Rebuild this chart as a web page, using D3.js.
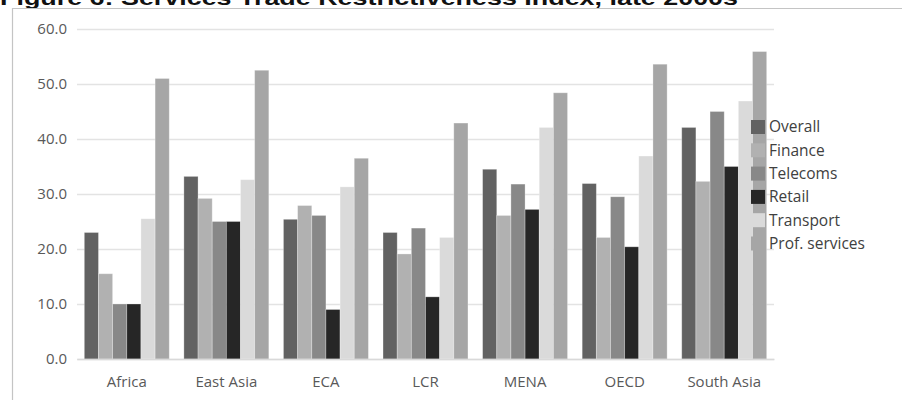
<!DOCTYPE html>
<html>
<head>
<meta charset="utf-8">
<script src="https://cdn.jsdelivr.net/npm/d3@7"></script>
<style>
  html, body { margin: 0; padding: 0; background: #fff; }
  svg { display: block; }
  .tick text { font-family: "Open Sans", sans-serif; fill: #595959; }
</style>
</head>
<body>
<svg id="chart" width="902" height="400"></svg>
<script>
// Services Trade Restrictiveness Index by region and sector
const regions = ["Africa", "East Asia", "ECA", "LCR", "MENA", "OECD", "South Asia"];
const sectors = ["Overall", "Finance", "Telecoms", "Retail", "Transport", "Prof. services"];

const overall   = [23.0, 33.2, 25.4, 23.0, 34.5, 31.9, 42.1];
const finance   = [15.5, 29.2, 27.9, 19.1, 26.1, 22.1, 32.3];
const telecoms  = [10.0, 25.0, 26.1, 23.8, 31.8, 29.5, 45.0];
const retail    = [10.0, 25.0,  9.0, 11.3, 27.2, 20.4, 35.0];
const transport = [25.5, 32.6, 31.3, 22.1, 42.1, 36.9, 46.9];
const profServ  = [51.0, 52.5, 36.5, 42.9, 48.4, 53.6, 55.9];

const yTicks = [0, 10, 20, 30, 40, 50, 60];
const titleText = "Figure 6: Services Trade Restrictiveness Index, late 2000s";

const seriesValues = [overall, finance, telecoms, retail, transport, profServ];
const colors = ["#626262", "#b1b1b1", "#888888", "#262626", "#dadada", "#a6a6a6"];

const svg = d3.select("#chart");

// title, partly above the top edge
svg.append("text")
  .attr("x", 0).attr("y", 5)
  .attr("textLength", 738).attr("lengthAdjust", "spacingAndGlyphs")
  .style("font-family", "'Liberation Sans', Arial, sans-serif")
  .style("font-weight", "bold")
  .style("font-size", "20px")
  .style("fill", "#111")
  .text(titleText);

// chart frame
svg.append("path")
  .attr("d", "M12.5,402 V8.5 H904")
  .attr("fill", "none")
  .attr("stroke", "#c4c4c4")
  .attr("stroke-width", 1.2);

const x0 = 77, x1 = 774, yBase = 359, yTop = 29;

const x = d3.scaleBand()
  .domain(regions)
  .range([x0, x1])
  .paddingInner(0.147)
  .paddingOuter(0.0735);

const xs = d3.scaleBand()
  .domain(sectors)
  .range([0, x.bandwidth()])
  .padding(0);

const y = d3.scaleLinear()
  .domain([0, 60])
  .range([yBase, yTop]);

// gridlines and value labels
const yAxis = svg.append("g")
  .attr("transform", `translate(${x0},0)`)
  .call(d3.axisLeft(y)
    .tickValues(yTicks)
    .tickFormat(d3.format(".1f"))
    .tickSize(-(x1 - x0))
    .tickPadding(10));
yAxis.select(".domain").remove();
yAxis.selectAll(".tick line")
  .attr("stroke", "#e3e3e3")
  .attr("stroke-width", 1.5);
yAxis.selectAll(".tick text").style("font-size", "15px");

// bars
const groups = svg.append("g").selectAll("g")
  .data(regions)
  .join("g")
  .attr("transform", d => `translate(${x(d)},0)`);

groups.selectAll("rect")
  .data((region, i) => sectors.map((s, k) => ({ sector: s, value: seriesValues[k][i], color: colors[k] })))
  .join("rect")
  .attr("x", d => xs(d.sector))
  .attr("width", xs.bandwidth())
  .attr("y", d => y(d.value))
  .attr("height", d => y(0) - y(d.value))
  .attr("fill", d => d.color)
  .attr("stroke", "#ffffff")
  .attr("stroke-opacity", 0.35)
  .attr("stroke-width", 0.8);

// category axis
const xAxis = svg.append("g")
  .attr("transform", `translate(0,${yBase})`)
  .call(d3.axisBottom(x).tickSize(0).tickPadding(17));
xAxis.select(".domain").attr("stroke", "#d9d9d9").attr("stroke-width", 1.5);
xAxis.selectAll(".tick text").style("font-size", "15px");

// legend
const legend = svg.append("g")
  .attr("transform", "translate(751,127)");
const item = legend.selectAll("g")
  .data(sectors)
  .join("g")
  .attr("transform", (d, i) => `translate(0,${i * 23.3})`);
item.append("rect")
  .attr("x", 0).attr("y", -7)
  .attr("width", 14).attr("height", 14)
  .attr("fill", (d, i) => colors[i]);
item.append("text")
  .attr("x", 18).attr("y", 0)
  .attr("dy", "0.35em")
  .style("font-family", "'Open Sans', sans-serif")
  .style("font-size", "15.5px")
  .style("fill", "#404040")
  .text(d => d);
</script>
</body>
</html>
